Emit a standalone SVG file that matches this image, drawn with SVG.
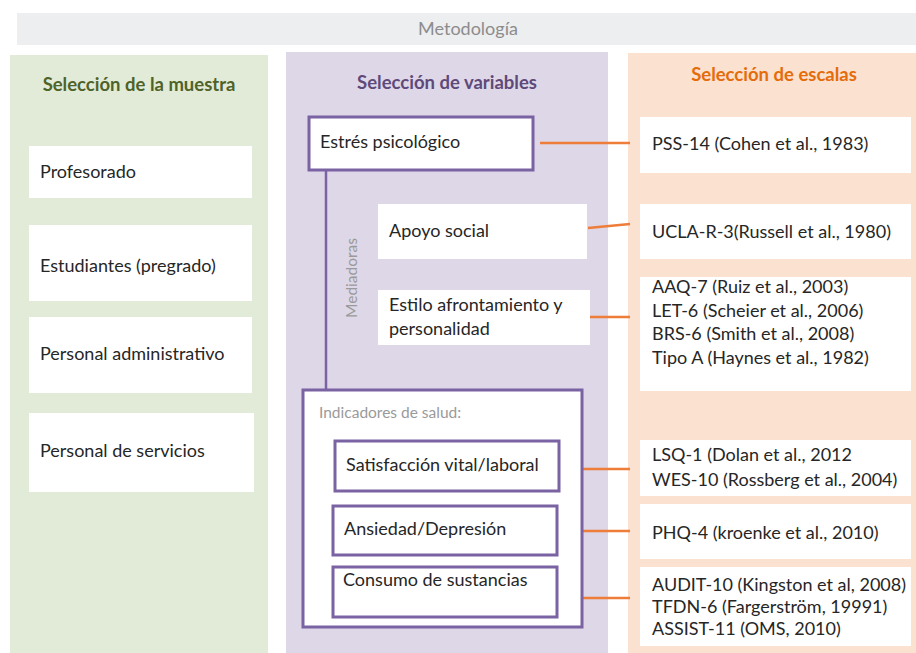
<svg xmlns="http://www.w3.org/2000/svg" width="916" height="653" viewBox="0 0 916 653">
<style>
text{font-family:Lato,"Liberation Sans",sans-serif;font-size:18px;fill:#262626}
.title{font-weight:bold;font-size:18.5px;text-anchor:middle}
.wbox{fill:#ffffff}
.pbox{fill:#ffffff;stroke:#7b62a3;stroke-width:3}
.conn{stroke:#ef7d3a;stroke-width:2.5;fill:none}
.vline{stroke:#7b62a3;stroke-width:2.5;fill:none}
.gray{fill:#9a9a9a;font-size:15.5px}
</style>
<rect width="916" height="653" fill="#ffffff"/>
<g id="header">
<rect x="17" y="13" width="899" height="32" fill="#eceef0"/>
<text x="468" y="35" text-anchor="middle" style="fill:#8c8c8c">Metodología</text>
</g>
<g id="panel-muestra">
<rect x="10" y="55" width="258" height="598" fill="#e1ebd8"/>
<text class="title" x="139" y="91" style="fill:#4f6228">Selección de la muestra</text>
</g>
<g id="panel-variables">
<rect x="286" y="52" width="322" height="601" fill="#ddd7e7"/>
<text class="title" x="447" y="89" style="fill:#5f497a">Selección de variables</text>
</g>
<g id="panel-escalas">
<rect x="628" y="53" width="288" height="600" fill="#fbe1d0"/>
<text class="title" x="774" y="81" style="fill:#e46c0a">Selección de escalas</text>
</g>
<g id="connectors">
<line class="vline" x1="326" y1="170" x2="326" y2="390"/>
<line class="conn" x1="540" y1="143" x2="630" y2="143"/>
<line class="conn" x1="588" y1="228" x2="630" y2="224"/>
<line class="conn" x1="590" y1="317" x2="630" y2="317"/>
<line class="conn" x1="559" y1="469" x2="630" y2="469"/>
<line class="conn" x1="557" y1="531" x2="630" y2="531"/>
<line class="conn" x1="557" y1="598" x2="630" y2="598"/>
</g>
<g id="profesorado"><rect class="wbox" x="29" y="146" width="223" height="52"/><text x="40" y="178">Profesorado</text></g>
<g id="estudiantes"><rect class="wbox" x="29" y="225" width="223" height="76"/><text x="40" y="272">Estudiantes (pregrado)</text></g>
<g id="administrativo"><rect class="wbox" x="29" y="317" width="223" height="76"/><text x="40" y="360">Personal administrativo</text></g>
<g id="servicios"><rect class="wbox" x="29" y="413" width="225" height="79"/><text x="40" y="457">Personal de servicios</text></g>
<g id="estres"><rect class="pbox" x="309" y="117" width="224" height="53"/><text x="320" y="148">Estrés psicológico</text></g>
<g id="mediadoras"><text class="gray" transform="translate(357,278) rotate(-90)" text-anchor="middle">Mediadoras</text></g>
<g id="apoyo"><rect class="wbox" x="378" y="204" width="209" height="55"/><text x="389" y="237">Apoyo social</text></g>
<g id="estilo"><rect class="wbox" x="378" y="290" width="212" height="55"/><text x="389" y="311">Estilo afrontamiento y</text><text x="389" y="335">personalidad</text></g>
<g id="indicadores"><rect class="pbox" x="303" y="390" width="279" height="237"/><text class="gray" x="319" y="418">Indicadores de salud:</text></g>
<g id="satisfaccion"><rect class="pbox" x="335" y="441" width="224" height="50"/><text x="346" y="471">Satisfacción vital/laboral</text></g>
<g id="ansiedad"><rect class="pbox" x="333" y="506" width="224" height="49"/><text x="344" y="535">Ansiedad/Depresión</text></g>
<g id="consumo"><rect class="pbox" x="333" y="567" width="224" height="50"/><text x="343" y="586">Consumo de sustancias</text></g>
<g id="pss"><rect class="wbox" x="640" y="117" width="271" height="56"/><text x="652" y="150">PSS-14 (Cohen et al., 1983)</text></g>
<g id="ucla"><rect class="wbox" x="640" y="204" width="271" height="55"/><text x="652" y="238">UCLA-R-3(Russell et al., 1980)</text></g>
<g id="aaq"><rect class="wbox" x="640" y="277" width="271" height="114"/><text x="652" y="293">AAQ-7 (Ruiz et al., 2003)</text><text x="652" y="317">LET-6 (Scheier et al., 2006)</text><text x="652" y="340">BRS-6 (Smith et al., 2008)</text><text x="652" y="364">Tipo A (Haynes et al., 1982)</text></g>
<g id="lsq"><rect class="wbox" x="640" y="440" width="271" height="56"/><text x="652" y="461">LSQ-1 (Dolan et al., 2012</text><text x="652" y="486">WES-10 (Rossberg et al., 2004)</text></g>
<g id="phq"><rect class="wbox" x="640" y="504" width="271" height="55"/><text x="652" y="539">PHQ-4 (kroenke et al., 2010)</text></g>
<g id="audit"><rect class="wbox" x="640" y="567" width="271" height="79"/><text x="652" y="591">AUDIT-10 (Kingston et al, 2008)</text><text x="652" y="613">TFDN-6 (Fargerström, 19991)</text><text x="652" y="635">ASSIST-11 (OMS, 2010)</text></g>
</svg>
